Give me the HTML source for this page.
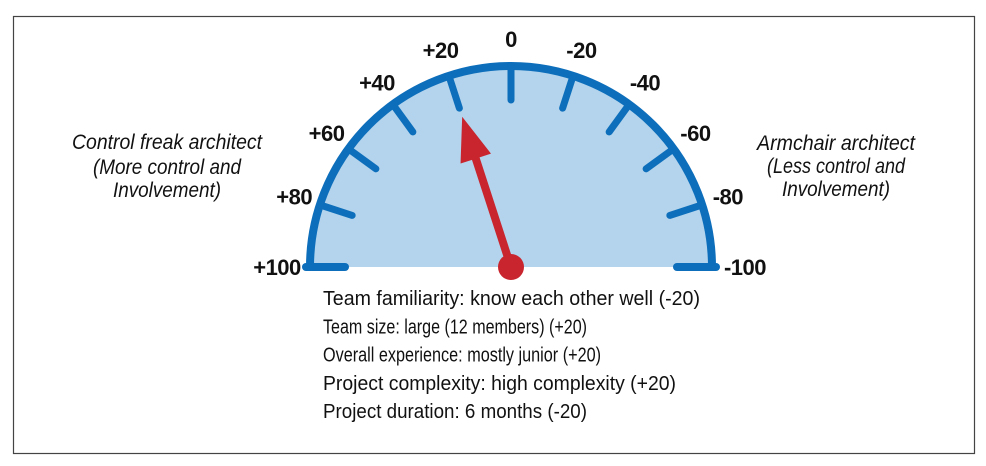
<!DOCTYPE html>
<html><head><meta charset="utf-8"><style>
html,body{margin:0;padding:0;background:#fff;width:986px;height:466px;overflow:hidden}
svg{display:block;font-family:"Liberation Sans",sans-serif}
</style></head><body>
<svg id="chart" width="986" height="466" viewBox="0 0 986 466">
<rect x="13.5" y="16.5" width="961" height="437" fill="none" stroke="#444" stroke-width="1.2"/>
<g id="gauge"></g>
<g font-style="italic" font-size="21" fill="#111" text-anchor="middle">
<text x="167" y="149" textLength="190" lengthAdjust="spacingAndGlyphs">Control freak architect</text>
<text x="167" y="174" textLength="148" lengthAdjust="spacingAndGlyphs">(More control and</text>
<text x="167" y="197" textLength="108" lengthAdjust="spacingAndGlyphs">Involvement)</text>
</g>
<g font-style="italic" font-size="21" fill="#111" text-anchor="middle">
<text x="836" y="150" textLength="158" lengthAdjust="spacingAndGlyphs">Armchair architect</text>
<text x="836" y="173" textLength="138" lengthAdjust="spacingAndGlyphs">(Less control and</text>
<text x="836" y="196" textLength="108" lengthAdjust="spacingAndGlyphs">Involvement)</text>
</g>
<g id="factors" font-size="20" fill="#111"></g>
</svg>
<script>
const tickValues = [80, 60, 40, 20, 0, -20, -40, -60, -80];
const labelValues = [100, 80, 60, 40, 20, 0, -20, -40, -60, -80, -100];
const labelTexts = ["+100","+80","+60","+40","+20","0","-20","-40","-60","-80","-100"];
const needleValue = 20;
const factorTexts = ["Team familiarity: know each other well  (-20)","Team size: large (12 members) (+20)","Overall experience: mostly junior (+20)","Project complexity: high complexity  (+20)","Project duration: 6 months (-20)"];
const factorWidths = [377, 264, 278, 353, 264];

const NS = "http://www.w3.org/2000/svg";
const cx = 511, cy = 267, R = 201;
const BLUE = "#0d6ebb", FILL = "#b3d4ec", RED = "#c8252e";
function ang(v){ return v/100*Math.PI/2; }
function pt(v, r){ const a = ang(v); return [cx - r*Math.sin(a), cy - r*Math.cos(a)]; }
function mk(tag, attrs, parent){ const e = document.createElementNS(NS, tag); for (const k in attrs) e.setAttribute(k, attrs[k]); parent.appendChild(e); return e; }
const g = document.getElementById("gauge");

const face = mk("path", {d:`M${cx-R},${cy} A${R},${R} 0 0 1 ${cx+R},${cy} Z`, fill:FILL, stroke:"none"}, g);


const arc = mk("path", {d:`M${cx-R},${cy} A${R},${R} 0 0 1 ${cx+R},${cy}`, fill:"none", stroke:BLUE, "stroke-width":8}, g);


const bl = mk("line", {x1:cx-R-4, y1:cy, x2:cx-R+35, y2:cy, stroke:BLUE, "stroke-width":8, "stroke-linecap":"round"}, g);


const br = mk("line", {x1:cx+R-35, y1:cy, x2:cx+R+4, y2:cy, stroke:BLUE, "stroke-width":8, "stroke-linecap":"round"}, g);



tickValues.forEach(v => {
  const [x1,y1] = pt(v, R); const [x2,y2] = pt(v, R-34);
  const t = mk("line", {x1, y1, x2, y2, stroke:BLUE, "stroke-width":7, "stroke-linecap":"round"}, g);
  
  
});
labelValues.forEach((v,i) => {
  const r = Math.abs(v) === 100 ? 234 : 228;
  let [x,y] = pt(v, r);
  const t = mk("text", {x, y:y+8, "text-anchor":"middle", "font-size":22, "font-weight":"bold", fill:"#111", "letter-spacing":"-0.5"}, g);
  t.textContent = labelTexts[i];
  
  
});

const a = ang(needleValue);
const L = 158, headLen = 44, headW = 16, sw = 4;
const ux = -Math.sin(a), uy = -Math.cos(a), px = -uy, py = ux;
const tip = [cx+ux*L, cy+uy*L];
const hb = [cx+ux*(L-headLen), cy+uy*(L-headLen)];
const needlePts = [
  [cx+px*sw, cy+py*sw],[hb[0]+px*sw, hb[1]+py*sw],[hb[0]+px*headW, hb[1]+py*headW],tip,
  [hb[0]-px*headW, hb[1]-py*headW],[hb[0]-px*sw, hb[1]-py*sw],[cx-px*sw, cy-py*sw]
].map(p=>p.join(",")).join(" ");
const needle = mk("polygon", {points:needlePts, fill:RED}, g);


const hub = mk("circle", {cx, cy, r:13, fill:RED}, g);



const f = document.getElementById("factors");
factorTexts.forEach((s,i) => {
  const t = mk("text", {x:323, y:305 + i*28.3, textLength:factorWidths[i], lengthAdjust:"spacingAndGlyphs"}, f);
  t.textContent = s;
  
  
});
</script>
</body></html>
